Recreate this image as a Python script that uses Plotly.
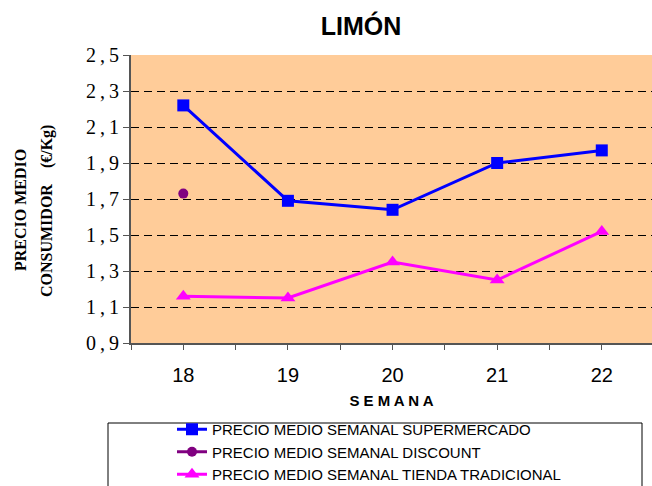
import plotly.graph_objects as go

weeks = [18, 19, 20, 21, 22]
supermercado = [2.22, 1.69, 1.64, 1.90, 1.97]
discount = [1.73, None, None, None, None]
tradicional = [1.16, 1.15, 1.35, 1.25, 1.52]
y_ticks = [0.9, 1.1, 1.3, 1.5, 1.7, 1.9, 2.1, 2.3, 2.5]
y_ticktext = [f"{v:.1f}".replace(".", "\u2009,\u2009") for v in y_ticks]

L, R, T, B = 131, 0, 55, 143
PW, PH = 652 - L - R, 486 - T - B
BOTTOM = 486 - B


def py(ypix):
    return (BOTTOM - ypix) / PH


def px(xpix):
    return (xpix - L) / PW


fig = go.Figure()
fig.add_trace(go.Scatter(x=weeks, y=supermercado, mode="lines+markers",
                         name="PRECIO MEDIO SEMANAL SUPERMERCADO",
                         line=dict(color="#0000FF", width=3),
                         marker=dict(symbol="square", size=12, color="#0000FF")))
fig.add_trace(go.Scatter(x=weeks, y=discount, mode="lines+markers",
                         name="PRECIO MEDIO SEMANAL DISCOUNT",
                         line=dict(color="#800080", width=3),
                         marker=dict(symbol="circle", size=10, color="#800080")))
fig.add_trace(go.Scatter(x=weeks, y=tradicional, mode="lines+markers",
                         name="PRECIO MEDIO SEMANAL TIENDA TRADICIONAL",
                         line=dict(color="#FF00FF", width=3),
                         marker=dict(symbol="triangle-up", size=13, color="#FF00FF")))

fig.update_layout(
    width=652, height=486,
    margin=dict(l=L, r=R, t=T, b=B, autoexpand=False),
    paper_bgcolor="white", plot_bgcolor="#FFCC99",
    title=dict(text="<b>LIMÓN</b>", x=361/652, xanchor="center", xref="container",
               y=1-26/486, yref="container", yanchor="middle",
               font=dict(family="Liberation Sans, Arial", size=25, color="black")),
    xaxis=dict(range=[17.5, 22.48], tickvals=weeks, ticktext=[str(w) for w in weeks],
               ticks="outside", ticklen=5, tickcolor="#555", ticklabelstandoff=8,
               minor=dict(ticks="outside", ticklen=5, tickcolor="#555", tick0=17.5, dtick=1),
               showgrid=False, zeroline=False,
               showline=True, linecolor="#555", linewidth=2, mirror=False,
               tickfont=dict(family="Liberation Sans, Arial", size=20, color="black"),
               title=dict(text="<b>S E M A N A</b>", standoff=10,
                          font=dict(family="Liberation Sans, Arial", size=15, color="black"))),
    yaxis=dict(range=[0.9, 2.5], tickvals=y_ticks, ticktext=y_ticktext,
               ticks="outside", ticklen=6, tickcolor="#555",
               showgrid=True, gridcolor="black", gridwidth=1, griddash="8px,5px",
               zeroline=False, showline=True, linecolor="#555", linewidth=2, mirror=False,
               tickfont=dict(family="Liberation Serif, Times New Roman", size=20, color="black")),
    legend=dict(xref="container", yref="container", x=172/652, xanchor="left",
                y=1-413/486, yanchor="top",
                bgcolor="rgba(0,0,0,0)", borderwidth=0,
                font=dict(family="Liberation Sans, Arial", size=15, color="black"),
                tracegroupgap=0),
    showlegend=True,
)

# legend frame
fig.add_shape(type="rect", xref="paper", yref="paper",
              x0=px(108), x1=px(642), y0=py(492), y1=py(423),
              line=dict(color="black", width=1), fillcolor="rgba(0,0,0,0)", layer="below")

fig.add_annotation(text="<b>PRECIO MEDIO</b>", xref="paper", yref="paper",
                   x=px(20), y=py(210), textangle=-90, showarrow=False,
                   xanchor="center", yanchor="middle",
                   font=dict(family="Liberation Serif, Times New Roman", size=16, color="black"))
fig.add_annotation(text="<b>CONSUMIDOR    (€/Kg)</b>", xref="paper", yref="paper",
                   x=px(47), y=py(211), textangle=-90, showarrow=False,
                   xanchor="center", yanchor="middle",
                   font=dict(family="Liberation Serif, Times New Roman", size=16, color="black"))

fig.write_html("out.html", post_script="document.body.style.margin='0';",
               config={"displayModeBar": False})
